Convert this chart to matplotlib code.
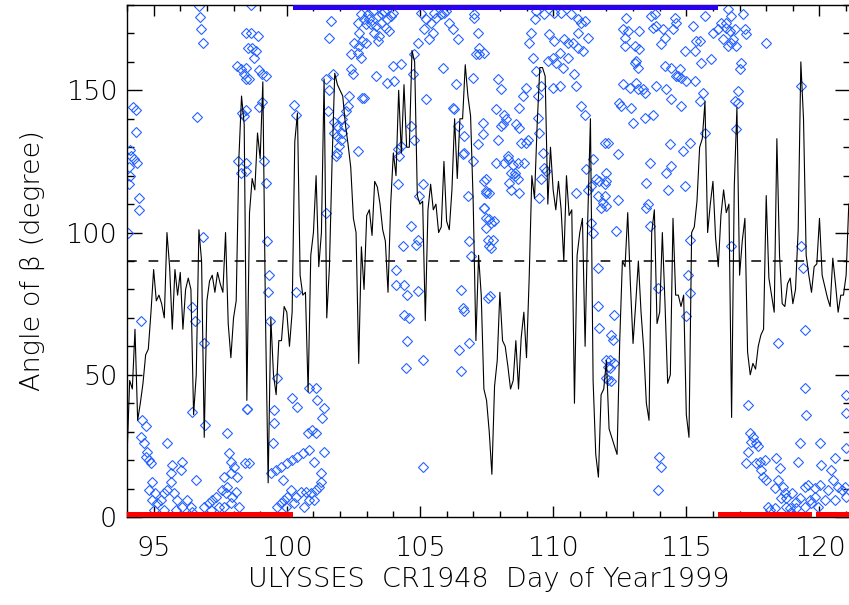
import numpy as np
import matplotlib
matplotlib.use("Agg")
import matplotlib.pyplot as plt
from matplotlib.ticker import MultipleLocator

# ---------------- data ----------------
t_start = 94.0          # day of year of first line sample
t_step = 0.1            # sampling step (days)
beta_line = [
    # 94.0 - 98.5
    21, 48, 45, 66, 34, 40, 47, 57, 59, 72, 87, 76, 78, 75, 70, 100, 88, 66, 87, 78,
    86, 66, 80, 84, 80, 36, 50, 101, 90, 28, 76, 83, 85, 79, 86, 82, 79, 100, 68, 56,
    70, 76, 126, 148, 138, 41,
    # 98.6 - 103.0
    107, 119, 115, 135, 126, 153, 70, 12, 70, 50, 43, 62, 62, 74, 72, 60, 72, 132, 142, 85,
    78, 79, 44, 92, 100, 120, 88, 100, 154, 70, 88, 125, 156, 152, 150, 148, 138, 131, 123, 105,
    100, 54, 95, 80, 106,
    # 103.1 - 107.5
    108, 99, 118, 116, 110, 101, 97, 79, 110, 128, 120, 150, 128, 152, 130, 130, 164, 160, 113, 110,
    111, 69, 108, 117, 108, 110, 100, 102, 125, 104, 101, 115, 140, 119, 140, 140, 159, 148, 141, 110,
    62, 92, 78, 45, 41,
    # 107.6 - 112.0
    30, 15, 46, 55, 79, 62, 60, 53, 45, 48, 62, 45, 63, 72, 56, 84, 120, 112, 138, 158,
    158, 155, 110, 130, 115, 108, 118, 108, 90, 120, 106, 108, 40, 92, 100, 105, 60, 105, 140, 48,
    22, 14, 43, 45, 55,
    # 112.1 - 116.5
    31, 28, 25, 22, 62, 90, 88, 107, 82, 61, 75, 90, 72, 59, 40, 34, 100, 108, 68, 72,
    100, 75, 47, 50, 105, 78, 78, 74, 78, 36, 28, 100, 102, 111, 130, 133, 146, 100, 110, 118,
    98, 88, 106, 115, 107,
    # 116.6 - 121.1
    110, 35, 116, 144, 85, 97, 105, 58, 50, 54, 52, 60, 64, 66, 113, 84, 78, 72, 133, 92,
    75, 74, 82, 84, 75, 80, 101, 160, 140, 92, 85, 79, 88, 89, 105, 85, 81, 77, 74, 91,
    82, 72, 78, 78, 85, 110,
]

scatter_day = [
    # 94 - 98.5
    96.70, 96.74, 96.79, 96.85, 96.61, 98.14, 98.29, 98.39, 98.46, 98.46, 98.54, 98.33, 98.39, 98.17, 98.27,
    98.50, 98.42, 94.23, 94.32, 94.35, 94.11, 94.16, 94.26, 94.38, 94.07, 94.13, 94.07, 94.45, 94.45, 94.03,
    94.51, 96.45, 96.55, 96.89, 96.84, 96.45, 96.93, 97.77, 95.51,
    94.57, 94.70, 94.51, 94.64, 94.76, 94.70, 94.82, 94.89,
    94.95, 94.82, 95.07, 94.95, 95.14, 95.26, 95.39, 95.51, 95.64, 95.76, 95.89, 96.08, 96.01, 95.70, 95.64,
    96.58, 96.26, 96.39, 96.08, 96.45, 95.39, 95.01, 95.83,
    96.89, 97.08, 97.20, 97.33, 97.45, 97.58, 97.70, 97.64, 97.77, 97.89, 98.02, 97.83, 97.89, 98.14, 97.89,
    97.64, 98.08, 97.96, 98.21, 97.14,
    # 98.5 - 103
    98.65, 98.65, 98.90, 98.71, 98.83, 98.77, 98.46, 98.58, 98.96, 99.08, 99.21, 98.46, 98.96, 99.08,
    98.46, 98.46, 99.15, 99.21, 99.27, 99.34, 99.30, 99.37, 99.65, 100.27, 100.34, 100.34, 98.52, 98.58,
    99.52, 99.52, 99.50, 99.40, 99.59, 99.77, 99.84, 100.02, 100.21, 100.40, 100.59, 100.84, 101.03, 101.40,
    101.28, 101.28, 101.09, 100.90, 100.71, 100.53, 100.34, 100.15, 100.02, 99.90, 99.77, 99.65, 99.96,
    100.27, 100.65, 100.84, 101.03, 101.22, 100.21, 100.40, 100.84, 101.09, 101.15, 101.40, 101.34, 100.96,
    100.78, 101.09,
    101.65, 101.59, 101.72, 101.47, 101.59, 101.53, 101.78, 101.90, 102.09, 102.22, 102.28, 102.34,
    101.78, 101.90, 102.03, 102.09, 101.97, 101.84, 101.90, 102.15, 102.66, 102.84, 102.41, 102.47,
    102.53, 102.72, 102.66, 102.41, 102.78, 102.84, 102.72, 102.91, 102.78, 102.97, 102.66, 101.47,
    # 103 - 107.5
    103.03, 103.22, 103.41, 103.59, 103.78, 103.91, 103.16, 103.34, 103.53, 103.72, 103.85, 103.09,
    102.97, 103.41, 103.28, 103.66, 103.97, 103.47,
    103.34, 103.78, 104.03, 103.97, 104.28, 102.91,
    104.79, 104.72, 104.66, 104.79, 104.91, 105.22, 105.85,
    104.16, 104.22, 104.28, 104.16, 105.10, 104.97, 104.66, 104.91, 104.85, 104.35, 104.10, 104.10, 104.41,
    104.53, 104.91, 104.41, 104.60, 104.53, 104.47, 105.10, 105.10,
    105.04, 105.22, 105.41, 105.60, 105.79, 105.98, 106.10, 105.16, 105.48, 105.35, 106.23, 106.42,
    105.91, 105.54,
    106.35, 106.23, 106.29, 106.42, 106.67, 106.60, 106.79, 106.85, 106.92, 106.54, 106.60, 106.67,
    106.48, 106.85, 106.54, 106.98, 106.67, 106.98,
    107.04, 107.17, 107.23, 107.23, 107.10, 107.35, 107.35, 107.17, 107.39, 107.48, 107.42, 107.48,
    107.48, 107.54, 107.54, 107.04,
    # 107.5 - 112
    107.42, 107.92, 108.04, 107.86, 108.17, 108.23, 108.11, 107.92, 108.04, 108.61, 108.73, 108.80,
    109.05, 108.98, 107.86, 108.17, 108.29, 108.48, 108.67, 108.92, 108.42, 108.55, 108.67, 108.36,
    108.42, 108.73, 108.55, 108.29, 107.48, 107.48, 107.61, 107.42, 107.61, 107.67, 107.79, 107.73,
    107.61, 107.67, 107.64,
    109.30, 109.17, 109.11, 109.23, 109.36, 109.55, 109.42, 108.98, 108.86, 108.73, 109.86, 110.05,
    109.80, 109.99, 110.11, 110.36, 110.55, 110.74, 110.93, 111.05, 111.18, 111.30, 110.93, 111.11,
    110.80, 110.24, 109.99, 110.86, 110.42, 110.55, 110.24, 109.67, 110.05, 110.30, 110.67, 110.93,
    109.36,
    109.42, 109.48, 109.61, 109.67, 109.73, 109.55, 109.48,
    111.05, 111.18, 111.93, 111.49, 111.24, 111.62, 111.43, 111.74, 111.93, 111.68, 111.87, 111.80,
    111.30, 110.86, 111.43, 111.49, 111.68, 111.68, 111.74, 111.99, 112.05, 111.99,
    # 112 - 116.5
    112.05, 111.99, 111.99, 111.93, 111.99, 112.43, 112.43, 112.37, 112.30, 112.18, 112.24, 112.12,
    112.30, 112.12, 112.05, 112.18,
    112.74, 112.62, 112.81, 112.68, 113.24, 112.68, 113.06, 113.24, 113.68, 113.81, 113.75, 113.87,
    114.12, 114.19, 114.06, 114.56, 114.62, 114.50, 115.25, 115.38, 115.50, 114.94, 115.31, 115.69,
    116.00, 116.19, 116.31, 116.38, 116.50, 115.94, 115.56, 114.75, 114.62, 114.69, 114.81, 115.00,
    114.19, 114.44, 114.25, 114.44, 114.81, 115.31, 112.62, 112.87, 113.12, 113.37, 113.43, 113.18,
    112.49, 112.56, 112.93, 112.99, 113.43, 113.75, 113.87, 113.12, 113.06, 113.18, 115.63, 115.50,
    115.69, 115.12, 114.87, 114.37, 114.44, 114.25, 114.31, 114.94, 113.62, 113.50, 113.56, 113.50,
    113.62, 115.12, 115.06, 115.12, 115.00, 113.93, 113.99, 114.06, 113.93,
    # 116.5 - 121
    116.57, 116.69, 116.50, 116.63, 116.82, 116.75, 116.57, 116.69, 116.88, 117.13, 117.19, 117.25,
    117.07, 117.00, 116.94, 116.82, 116.94, 116.88, 118.01, 119.32, 116.69, 119.32, 119.39, 118.44,
    119.45, 119.45, 119.51, 117.32,
    117.38, 117.51, 117.44, 117.63, 117.69, 117.32, 117.25, 117.63, 117.76, 117.94, 117.82, 117.88,
    118.01, 118.38, 118.51, 118.44, 118.63, 118.70, 118.32, 118.57, 118.76, 118.95, 119.13, 119.26,
    119.45, 119.57, 119.82, 120.01, 120.07, 120.58, 120.51, 120.70, 120.83, 120.95, 121.01, 120.58,
    120.20, 119.95, 119.70, 119.45, 119.13, 118.88, 118.32, 118.13, 119.26, 119.20, 120.01, 121.01,
    121.01, 121.01, 120.45, 120.33, 119.82, 119.64, 118.76, 118.95, 118.07,
]

scatter_angle = [
    # 94 - 98.5
    179.7, 175.7, 171.5, 166.8, 140.7, 158.6, 157.4, 155.6, 153.9, 170.3, 165.0, 142.0, 141.0, 125.0, 121.0,
    38.0, 19.0, 144.0, 143.0, 135.4, 129.0, 127.0, 126.0, 124.5, 123.0, 120.0, 117.0, 112.0, 108.0, 100.0,
    69.0, 74.0, 69.0, 61.0, 98.5, 37.0, 32.4, 29.5, 26.0,
    34.0, 32.0, 28.0, 26.0, 23.0, 21.0, 20.0, 19.0,
    12.4, 9.5, 8.3, 6.0, 4.8, 6.0, 8.3, 9.5, 12.4, 8.3, 6.0, 19.5, 16.5, 18.3, 15.4,
    13.0, 6.0, 3.6, 3.6, 1.9, 2.5, 2.5, 2.5,
    3.6, 4.8, 6.0, 7.2, 3.6, 9.5, 8.3, 14.2, 10.7, 15.4, 17.7, 22.4, 19.5, 14.2, 4.8,
    3.6, 8.9, 7.2, 3.6, 2.5,
    # 98.5 - 103
    180.0, 170.0, 169.0, 165.0, 164.0, 161.5, 158.0, 154.0, 157.0, 155.6, 155.0, 143.0, 144.0, 146.0,
    124.5, 121.6, 125.0, 117.5, 97.0, 85.0, 79.0, 69.0, 49.0, 145.0, 141.5, 79.0, 38.0, 19.0,
    37.7, 33.0, 26.0, 15.4, 16.5, 17.7, 13.0, 19.0, 20.0, 21.0, 22.4, 23.6, 19.5, 23.0,
    15.4, 12.4, 9.5, 8.3, 8.9, 8.9, 7.2, 9.5, 7.2, 6.0, 4.8, 3.6, 3.6,
    4.8, 3.6, 6.0, 6.0, 10.7, 41.8, 38.8, 45.3, 45.3, 41.2, 38.3, 34.7, 30.6,
    29.5, 29.5,
    174.4, 168.5, 155.6, 154.0, 150.0, 142.7, 139.0, 137.4, 139.8, 142.7, 144.5, 148.0,
    135.0, 134.0, 132.7, 135.0, 130.4, 127.0, 128.0, 137.4, 128.6, 147.4, 157.4, 155.6,
    166.8, 165.6, 163.3, 162.7, 161.5, 167.4, 170.3, 175.0, 176.8, 173.2, 173.8, 107.0,
    # 103 - 107.5
    176.8, 178.0, 176.2, 176.8, 175.0, 176.2, 173.2, 172.7, 173.8, 172.0, 171.0, 175.0,
    166.8, 167.4, 170.3, 178.0, 177.3, 169.0,
    155.0, 152.7, 153.3, 158.6, 159.2, 147.4,
    162.7, 155.6, 137.4, 132.7, 166.8, 146.8, 157.9,
    129.2, 126.9, 130.4, 116.9, 116.9, 112.8, 102.2, 97.5, 95.8, 95.2, 87.0, 81.7, 81.7,
    78.2, 79.3, 71.1, 70.0, 61.7, 52.3, 55.3, 17.7,
    177.3, 175.0, 173.8, 175.6, 176.8, 178.0, 173.8, 171.5, 170.3, 168.0, 171.5, 168.0,
    177.3, 177.3,
    152.1, 143.9, 143.3, 137.4, 133.9, 127.5, 112.8, 97.0, 91.7, 79.9, 73.5, 72.3,
    58.8, 61.2, 51.2, 154.5, 128.0, 125.1,
    175.6, 170.3, 165.0, 162.7, 162.7, 138.6, 134.5, 131.0, 118.0, 114.6, 108.7, 105.2,
    101.6, 97.5, 77.0, 176.8,
    # 107.5 - 112
    163.3, 153.9, 150.4, 143.3, 141.5, 139.8, 138.0, 132.7, 137.4, 138.0, 136.9, 131.6,
    132.7, 131.6, 124.5, 124.5, 126.9, 123.9, 124.5, 124.5, 121.0, 119.8, 118.7, 117.5,
    115.1, 114.0, 121.0, 126.0, 118.7, 114.0, 114.0, 108.7, 104.6, 103.4, 104.0, 97.5,
    95.2, 94.6, 77.6,
    175.0, 170.3, 166.8, 161.5, 156.8, 151.5, 148.0, 150.9, 148.0, 143.9, 169.7, 167.4,
    160.3, 161.5, 159.7, 158.0, 161.5, 166.8, 170.3, 173.8, 174.4, 168.5, 165.0, 163.8,
    155.6, 151.5, 150.9, 151.5, 168.0, 166.8, 163.3, 176.8, 177.3, 177.3, 176.8, 175.0,
    178.0,
    140.4, 135.1, 128.0, 122.8, 121.6, 118.7, 112.2,
    144.5, 141.5, 131.6, 125.7, 122.2, 118.7, 116.3, 118.1, 116.9, 112.8, 110.4, 108.7,
    115.1, 114.0, 103.4, 99.9, 87.6, 74.1, 66.4, 55.3, 52.9, 48.8,
    # 112 - 116.5
    131.6, 121.0, 118.1, 112.8, 109.3, 127.5, 111.6, 100.5, 71.1, 64.1, 62.3, 55.3,
    54.1, 52.3, 48.2, 47.7,
    175.6, 171.5, 170.9, 168.5, 170.9, 165.6, 165.6, 164.4, 176.2, 176.8, 172.0, 172.7,
    171.5, 168.5, 166.2, 175.6, 173.8, 171.5, 172.7, 167.4, 167.4, 163.8, 163.8, 176.2,
    170.3, 171.5, 173.8, 168.0, 172.0, 160.9, 159.7, 157.4, 155.0, 155.0, 154.5, 153.3,
    158.6, 158.0, 150.4, 146.8, 144.5, 153.3, 152.1, 150.9, 152.7, 150.4, 149.2, 150.4,
    145.7, 144.5, 143.9, 138.6, 140.4, 141.5, 151.5, 160.3, 159.7, 158.0, 149.2, 146.2,
    135.1, 131.6, 128.6, 131.0, 123.4, 121.0, 115.1, 116.3, 124.5, 117.5, 109.9, 108.7,
    102.2, 97.5, 85.2, 78.8, 70.5, 80.5, 21.2, 17.7, 9.5,
    # 116.5 - 121
    178.5, 176.2, 173.8, 170.9, 171.5, 168.0, 165.6, 166.8, 165.6, 176.8, 171.5, 169.7,
    159.7, 157.4, 149.8, 146.2, 145.7, 136.3, 166.8, 151.5, 95.2, 95.2, 87.6, 61.2,
    65.8, 45.3, 35.9, 39.4,
    29.5, 28.3, 26.5, 25.9, 24.8, 23.0, 18.9, 18.9, 19.5, 20.1, 16.5, 14.2,
    13.0, 20.7, 17.1, 13.0, 10.7, 8.3, 10.1, 6.6, 6.6, 8.3, 5.4, 6.6,
    10.7, 11.3, 10.1, 11.3, 18.3, 20.7, 13.0, 10.7, 9.5, 10.7, 7.2, 6.0,
    6.0, 3.6, 4.8, 3.6, 3.1, 3.1, 3.1, 2.5, 25.9, 19.5, 25.9, 24.2,
    36.5, 43.0, 16.5, 9.5, 7.2, 6.0, 3.6, 1.3, 3.6,
]

red_segments = [(93.9, 100.24), (116.19, 119.72), (119.87, 121.3)]   # bars at 0 deg
blue_segments = [(100.25, 116.19)]                                    # bar at 180 deg
reference_angle = 90
x_major = [95, 100, 105, 110, 115, 120]
y_major = [0, 50, 100, 150]
x_label = "ULYSSES  CR1948  Day of Year1999"
y_label = "Angle of β (degree)"

# ---------------- plot ----------------
plt.rcParams["lines.scale_dashes"] = False
plt.rcParams["font.family"] = ["DejaVu Sans"]
plt.rcParams["font.weight"] = 200
plt.rcParams["axes.labelweight"] = 200

fig = plt.figure(figsize=(8.49, 6.05), dpi=100)
ax = fig.add_axes([127 / 849, 88 / 605, 1 - 127 / 849 + 0.001, 512 / 605])

days = t_start + t_step * np.arange(len(beta_line))
ax.plot(days, beta_line, color="black", lw=0.8, zorder=3)
ax.plot(scatter_day, scatter_angle, linestyle="none", marker="D", ms=5.4,
        mfc="none", mec="#2563ff", mew=0.8, zorder=2)
ax.axhline(reference_angle, color="black", lw=1.1, dashes=(7, 8.5), zorder=4)

for a, b in red_segments:
    ax.hlines(0, a, b, color="#ff0000", lw=7.2, capstyle="butt", zorder=5)
for a, b in blue_segments:
    ax.hlines(180, a, b, color="#2a00f0", lw=7.2, capstyle="butt", zorder=5)

ax.set_xlim(94.0, 121.14)
ax.set_ylim(0, 180)
ax.set_xticks(x_major)
ax.set_yticks(y_major)
ax.xaxis.set_minor_locator(MultipleLocator(1))
ax.yaxis.set_minor_locator(MultipleLocator(10))
ax.tick_params(which="both", direction="in", top=True, right=True, width=1.0,
               labelsize=19.5, colors="black")
ax.tick_params(axis="x", which="major", length=8, pad=14)
ax.tick_params(axis="x", which="minor", length=4.5)
ax.tick_params(axis="y", which="major", length=10.5, pad=7)
ax.tick_params(axis="y", which="minor", length=5.2)
for s in ax.spines.values():
    s.set_linewidth(1.0)
    s.set_color("black")

ax.set_xlabel(x_label, fontsize=19.5, labelpad=4, fontweight=200)
ax.set_ylabel(y_label, fontsize=19.5, labelpad=15, fontweight=200)

fig.savefig("out.png", dpi=100)
